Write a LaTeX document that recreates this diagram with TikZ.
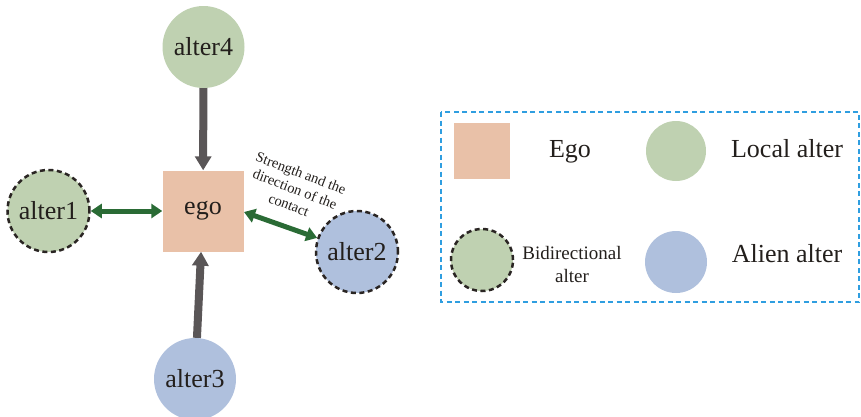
\documentclass[tikz,border=0pt]{standalone}
\usepackage{fontspec}
\setmainfont{Liberation Serif}
\usetikzlibrary{arrows.meta}
\definecolor{lgreen}{RGB}{191,209,177}
\definecolor{lblue}{RGB}{175,192,221}
\definecolor{peach}{RGB}{233,193,168}
\definecolor{agray}{RGB}{90,86,87}
\definecolor{agreen}{RGB}{42,107,53}
\definecolor{dborder}{RGB}{42,37,35}
\definecolor{legblue}{RGB}{47,158,224}
\definecolor{txt}{RGB}{35,31,28}
\begin{document}
\begin{tikzpicture}[x=1pt,y=-1pt,
  bigtext/.style={font=\fontsize{26}{30}\selectfont, text=txt},
  alterbase/.style={circle, inner sep=0pt, minimum size=82pt, bigtext},
  localalter/.style={alterbase, fill=lgreen},
  alienalter/.style={alterbase, fill=lblue},
  bidir/.style={draw=dborder, line width=2.5pt, dash pattern=on 5pt off 3.5pt},
  egobox/.style={rectangle, fill=peach, inner sep=0pt, minimum size=81pt, bigtext},
  grayarrow/.style={draw=agray, line width=8pt, -{Triangle[length=14pt,width=16pt]}},
  greenarrow/.style={draw=agreen, line width=5pt, {Triangle[length=11pt,width=14pt]}-{Triangle[length=11pt,width=14pt]}},
  legtext/.style={font=\fontsize{26}{30}\selectfont, text=txt, anchor=base, inner sep=0pt}
]
\useasboundingbox (0,0) rectangle (861,416);

% main diagram
\node[egobox] (ego) at (203,211) {ego};
\node[localalter] (alter4) at (203.5,47) {alter4};
\node[localalter, bidir] (alter1) at (48.5,211) {alter1};
\node[alienalter, bidir] (alter2) at (357,252) {alter2};
\node[alienalter] (alter3) at (195,379) {alter3};

\draw[grayarrow] (alter4) -- (ego);
\draw[grayarrow] (alter3) -- (ego);
\draw[greenarrow] (alter1) -- (ego);
\coordinate (e2) at (244,212);
\draw[greenarrow] (e2) -- (alter2);

\node[rotate=-21, align=center, inner sep=0pt, text=txt,
      font=\fontsize{14.5}{17}\selectfont] (lab) at (295,189)
      {Strength and the\\direction of the\\contact};

% legend
\draw[legblue, line width=2pt, dash pattern=on 5pt off 3.5pt] (441,112) rectangle (859,302);
\node[rectangle, fill=peach, inner sep=0pt, minimum size=56pt] (legego) at (482,151) {};
\node[legtext] (legegot) at (570,157) {Ego};
\node[circle, fill=lgreen, inner sep=0pt, minimum size=60pt] (leglocal) at (676,151) {};
\node[legtext] (leglocalt) at (787,157) {Local alter};
\node[circle, fill=lgreen, inner sep=0pt, minimum size=62pt, bidir] (legbi) at (482,260) {};
\node[align=center, text=txt, font=\fontsize{19}{23}\selectfont, inner sep=0pt] (legbit) at (572,264) {Bidirectional\\alter};
\node[circle, fill=lblue, inner sep=0pt, minimum size=62pt] (legalien) at (676,262) {};
\node[legtext] (legalient) at (787,262) {Alien alter};
\end{tikzpicture}
\end{document}
